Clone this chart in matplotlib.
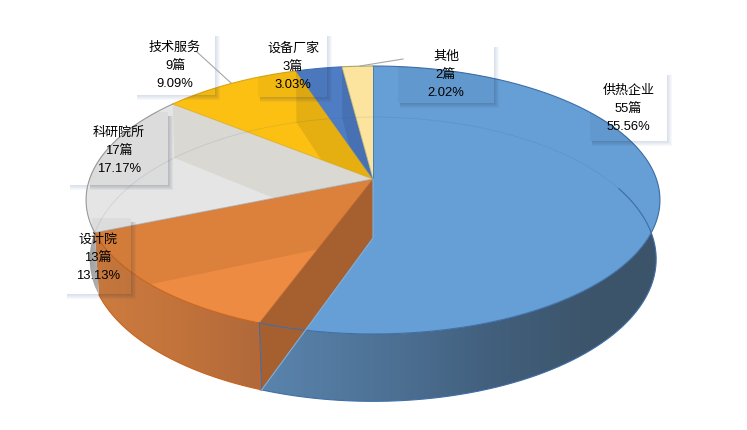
"""Transparent-looking 3D pie of paper counts by institution type."""
import matplotlib

matplotlib.use("Agg")
import matplotlib.pyplot as plt
import numpy as np
from matplotlib.colors import LinearSegmentedColormap
from matplotlib.patches import Polygon, Rectangle

plt.rcParams["font.family"] = ["Liberation Sans", "Noto Sans CJK SC"]

W, H = 747, 430

# clockwise from twelve o'clock
names = ["供热企业", "设计院", "科研院所", "技术服务", "设备厂家", "其他"]
counts = [55, 13, 17, 9, 3, 2]
percents = ["55.56%", "13.13%", "17.17%", "9.09%", "3.03%", "2.02%"]

top_colors = ["#659FD6", "#ED8B42", "#E5E5E5", "#FCC013", "#4F7DC4", "#FDE49E"]
rim_colors = ["#3F6FA8", "#C8641E", "#9A9A9A", "#D9A514", "#4472B8", "#A9A56A"]

# label boxes (x0, y0, x1, y1) and text centres
boxes = [(590, 71, 667, 141), (65, 218, 131, 294), (68, 112, 168, 185),
         (135, 32, 215, 95), (258, 32, 327, 97), (398, 43, 494, 103)]
label_x = [628.5, 98, 119, 175, 293, 446]
label_y = [89, 238, 131, 46, 47, 55]
line_step = 18.3

# perspective disc: centre, half width factor, half height factor, tilt
TOP = (373, 179, 283.4, 130.7, 0.1567)
BOTTOM = (373, 238, 280.0, 139.0, 0.149)


def rim(theta_deg, disc):
    cx, cy, a, b, k = disc
    t = np.radians(theta_deg)
    u, v = np.sin(t), np.cos(t)
    d = 1 + k * v
    return np.column_stack([cx + a * u / d, cy - b * v / d])


def arc(t0, t1, disc, n=160):
    return rim(np.linspace(t0, t1, n), disc)


def centre(disc):
    return np.array([[disc[0], disc[1]]])


def gradient_wall(ax, t0, t1, xs, colors):
    """Outer wall between two angles, shaded left to right."""
    pts = np.vstack([arc(t0, t1, TOP), arc(t1, t0, BOTTOM)])
    clip = Polygon(pts, closed=True, transform=ax.transData)
    x0, x1 = xs[0], xs[-1]
    stops = [(x - x0) / (x1 - x0) for x in xs]
    cmap = LinearSegmentedColormap.from_list("w", list(zip(stops, colors)))
    im = ax.imshow(np.linspace(0, 1, 256)[None, :], cmap=cmap, aspect="auto",
                   extent=(x0, x1, 420, 40), zorder=3, interpolation="bilinear")
    im.set_clip_path(clip)


def box_shadow(ax, box, color, alpha, zorder, clip=None):
    x0, y0, x1, y1 = box
    for d in (1, 2, 3, 4, 5):
        pts = [(x1, y0 + 4), (x1 + d, y0 + 4), (x1 + d, y1 + d),
               (x0 + 2, y1 + d), (x0 + 2, y1), (x1, y1)]
        p = Polygon(pts, closed=True, fc=color, ec="none", alpha=alpha, zorder=zorder)
        ax.add_patch(p)
        if clip is not None:
            p.set_clip_path(clip)


fig = plt.figure(figsize=(W / 100, H / 100), dpi=100)
ax = fig.add_axes([0, 0, 1, 1])

edges = np.concatenate([[0], np.cumsum(counts) / sum(counts) * 360])

# label boxes sit under the pie
for box in boxes:
    x0, y0, x1, y1 = box
    ax.add_patch(Rectangle((x0, y0), x1 - x0, y1 - y0, fc="white", ec="none", zorder=1))
    box_shadow(ax, box, "#7F93BE", 0.06, 2)

# outer walls
gradient_wall(ax, 60, edges[1], [263, 400, 500, 600, 662],
              ["#5A84AD", "#4C6F92", "#415E7B", "#3C5469", "#3C5469"])
gradient_wall(ax, edges[1], edges[2], [90, 180, 264],
              ["#CE7D40", "#C2733B", "#B0683A"])
gradient_wall(ax, edges[2], 285, [84, 110], ["#A0A0A0", "#C8C8C8"])

# top faces
faces = []
for i in range(len(counts)):
    pts = np.vstack([centre(TOP), arc(edges[i], edges[i + 1], TOP)])
    face = Polygon(pts, closed=True, fc=top_colors[i], ec="none", zorder=4)
    ax.add_patch(face)
    faces.append(face)

# radial walls seen through the faces; all but the first stay inside their own face
wall_style = {1: ("#A66030", 1.0), 2: ("#201000", 0.08), 3: ("#AEA486", 0.2),
              4: ("#000000", 0.09), 5: ("#000000", 0.09)}
for i, (color, alpha) in wall_style.items():
    t = edges[i]
    pts = np.vstack([centre(TOP), rim(t, TOP), rim(t, BOTTOM), centre(BOTTOM)])
    wall = Polygon(pts, closed=True, fc=color, ec="none", alpha=alpha, zorder=5)
    ax.add_patch(wall)
    if i > 1:
        wall.set_clip_path(faces[i - 1 if i > 2 else 1])

# far side of the lower rim shows faintly through the top
lower = arc(250, 470, BOTTOM, 240)
ax.plot(lower[:, 0], lower[:, 1], color="#30507A", lw=0.6, alpha=0.13, zorder=6)

# outlines
for i in range(len(counts)):
    r = arc(edges[i], edges[i + 1], TOP)
    ax.plot(r[:, 0], r[:, 1], color=rim_colors[i], lw=0.8, zorder=7)
    spoke = np.vstack([centre(TOP), rim(edges[i], TOP)])
    ax.plot(spoke[:, 0], spoke[:, 1], color=rim_colors[i], lw=0.7, alpha=0.7, zorder=7)

blue_low = arc(68, edges[1], BOTTOM)
ax.plot(blue_low[:, 0], blue_low[:, 1], color="#3F6FA8", lw=0.8, zorder=7)
orange_low = arc(edges[1], edges[2], BOTTOM)
ax.plot(orange_low[:, 0], orange_low[:, 1], color="#C8641E", lw=0.8, zorder=7)
corner = np.vstack([rim(edges[1], TOP), rim(edges[1], BOTTOM)])
ax.plot(corner[:, 0], corner[:, 1], color="#3F6FA8", lw=0.9, zorder=7)
ax.plot(corner[:, 0] - 1.5, corner[:, 1], color="#C8641E", lw=0.9, zorder=7)
inner = np.vstack([rim(edges[1], BOTTOM), centre(BOTTOM), centre(TOP)])
ax.plot(inner[:, 0], inner[:, 1], color="#7FB0DE", lw=0.8, zorder=7)

# boxes show faintly on the pie
silhouette = np.vstack([arc(-90, 90, TOP), arc(90, 270, BOTTOM)])
clip = Polygon(silhouette, closed=True, transform=ax.transData)
for box in boxes:
    x0, y0, x1, y1 = box
    tint = Rectangle((x0, y0), x1 - x0, y1 - y0, fc="black", ec="none", alpha=0.04, zorder=8)
    ax.add_patch(tint)
    tint.set_clip_path(clip)
    box_shadow(ax, box, "#303850", 0.05, 8, clip=clip)

# leader lines
ax.plot([197, 231], [52, 83], color="#A6A6A6", lw=0.8, zorder=9)
ax.plot([403, 360], [59, 66], color="#A6A6A6", lw=0.8, zorder=9)

for i, name in enumerate(names):
    rows = [name, f"{counts[i]}篇", percents[i]]
    for j, row in enumerate(rows):
        ax.text(label_x[i], label_y[i] + 1.5 + j * line_step, row, ha="center", va="center",
                fontsize=9.4, color="black", zorder=10)

ax.set_xlim(0, W)
ax.set_ylim(H, 0)
ax.axis("off")
fig.savefig("out.png", dpi=100, facecolor="white")
